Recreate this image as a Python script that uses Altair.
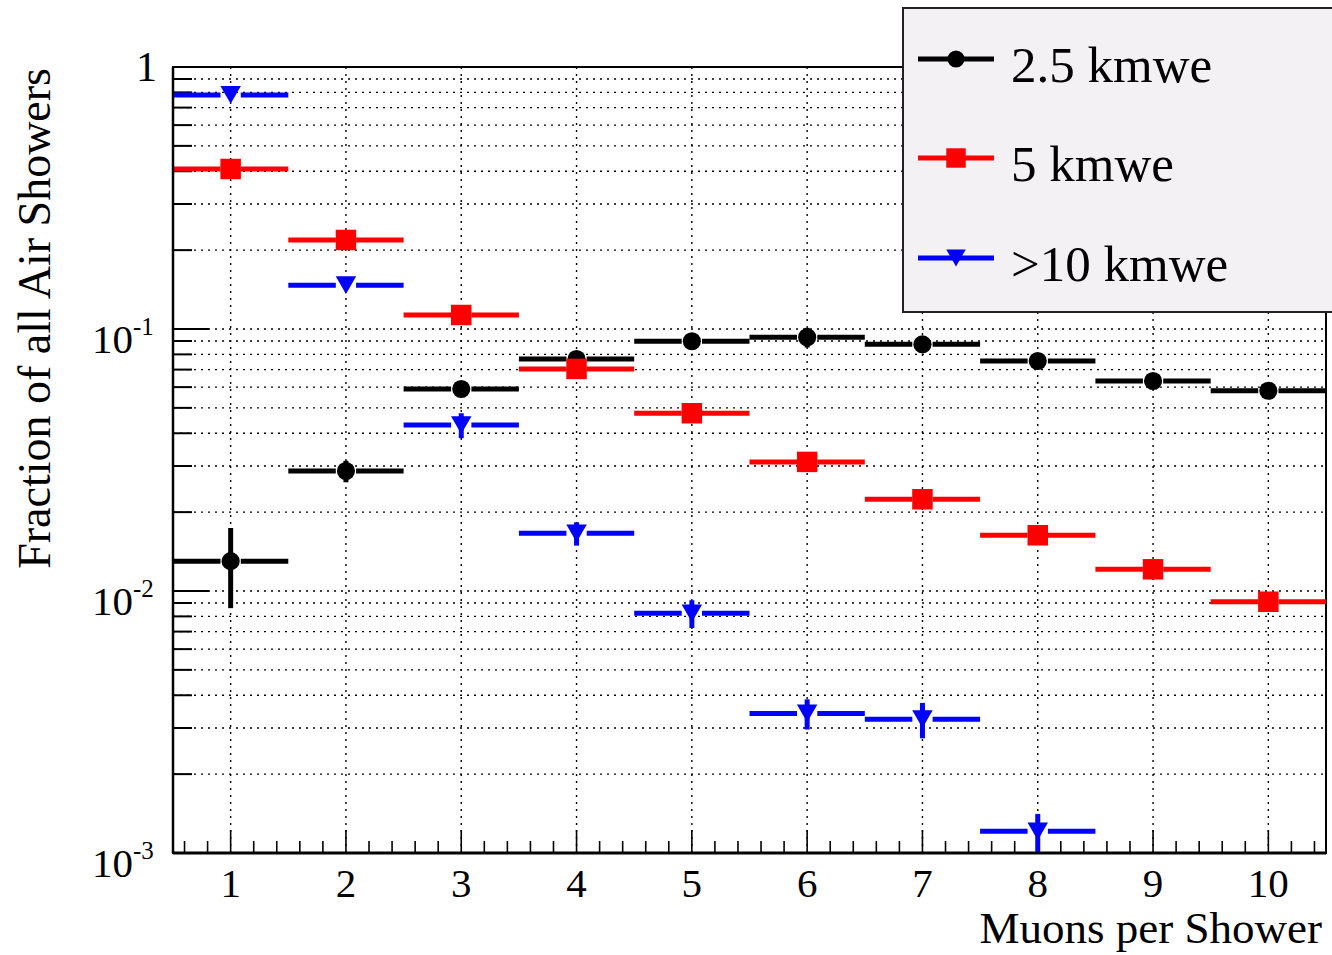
import altair as alt
import pandas as pd

# ---------------- data ----------------
muons = [1, 2, 3, 4, 5, 6, 7, 8, 9, 10]

val_25 = [0.0130, 0.0287, 0.0590, 0.0768, 0.0898, 0.0930, 0.0874, 0.0755, 0.0633, 0.0581]
err_25 = [0.0044, 0.0027, 0.0025, 0.0040, 0.0030, 0.0080, 0.0030, 0.0030, 0.0020, 0.0020]

val_5 = [0.408, 0.2187, 0.1131, 0.0704, 0.0477, 0.0311, 0.0224, 0.01632, 0.01210, 0.00910]
err_5 = [0.010, 0.0060, 0.0030, 0.0020, 0.0012, 0.0008, 0.0006, 0.0004, 0.0003, 0.0002]

muons_10 = [1, 2, 3, 4, 5, 6, 7, 8]
val_10 = [0.782, 0.147, 0.0430, 0.0166, 0.00822, 0.00341, 0.00324, 0.00121]
err_10 = [0.020, 0.004, 0.0047, 0.0017, 0.0010, 0.00045, 0.0005, 0.0002]

series_names = ["2.5 kmwe", "5 kmwe", ">10 kmwe"]
series_colors = ["#000000", "#ff0000", "#0000ff"]
series_shapes = ["circle", "square", "triangle-down"]
series_sizes = [330, 420, 420]

x_tick_labels = ["1", "2", "3", "4", "5", "6", "7", "8", "9", "10"]
y_major = [0.001, 0.01, 0.1, 1.0]
y_exponents = ["-3", "-2", "-1"]

x_title = "Muons per Shower"
y_title = "Fraction of all Air Showers"

# ---------------- layout ----------------
W, H = 1153, 786
SERIF = "Liberation Serif"
GAP = 0.088  # half marker width in x units (ROOT leaves the marker area free)

xs = alt.Scale(domain=[0.5, 10.5], nice=False, zero=False)
ys = alt.Scale(type="log", domain=[0.001, 1.0], nice=False)

layers = []

y_minor = [k * d for d in [0.001, 0.01, 0.1] for k in range(2, 10)]
y_all = sorted(y_major + y_minor)
x_minor = [round(0.6 + 0.2 * i, 1) for i in range(50)]
x_minor = [v for v in x_minor if abs(v - round(v)) > 1e-6 and v < 10.5]

ymaj_df = pd.DataFrame({"t": y_major})
ymin_df = pd.DataFrame({"t": y_minor})
yall_df = pd.DataFrame({"t": y_all})
xmaj_df = pd.DataFrame({"t": muons, "lab": x_tick_labels})
xmin_df = pd.DataFrame({"t": x_minor})

# dotted grid
layers.append(
    alt.Chart(yall_df).mark_rule(color="black", strokeWidth=1.4, strokeDash=[2, 5]).encode(
        x=alt.value(0), x2=alt.value(W),
        y=alt.Y("t:Q", scale=ys, axis=None),
    )
)
layers.append(
    alt.Chart(xmaj_df).mark_rule(color="black", strokeWidth=1.4, strokeDash=[2, 5]).encode(
        x=alt.X("t:Q", scale=xs, axis=None),
        y=alt.value(0), y2=alt.value(H),
    )
)

# ticks
layers.append(
    alt.Chart(ymaj_df).mark_rule(color="black", strokeWidth=2).encode(
        x=alt.value(0), x2=alt.value(36),
        y=alt.Y("t:Q", scale=ys, axis=None),
    )
)
layers.append(
    alt.Chart(ymin_df).mark_rule(color="black", strokeWidth=2).encode(
        x=alt.value(0), x2=alt.value(19),
        y=alt.Y("t:Q", scale=ys, axis=None),
    )
)
layers.append(
    alt.Chart(xmaj_df).mark_rule(color="black", strokeWidth=1.6).encode(
        x=alt.X("t:Q", scale=xs, axis=None),
        y=alt.value(H), y2=alt.value(H - 23),
    )
)
layers.append(
    alt.Chart(xmin_df).mark_rule(color="black", strokeWidth=1.6).encode(
        x=alt.X("t:Q", scale=xs, axis=None),
        y=alt.value(H), y2=alt.value(H - 12),
    )
)


# series
def series(xv, vals, errs, color, shape, size):
    df = pd.DataFrame({"x": xv, "v": vals, "e": errs})
    df["lo"] = df["v"] - df["e"]
    df["hi"] = df["v"] + df["e"]
    df["xl0"] = df["x"] - 0.5
    df["xl1"] = df["x"] - GAP
    df["xr0"] = df["x"] + GAP
    df["xr1"] = df["x"] + 0.5
    base = alt.Chart(df)
    out = []
    out.append(base.mark_rule(color=color, strokeWidth=5).encode(
        x=alt.X("xl0:Q", scale=xs, axis=None), x2="xl1:Q",
        y=alt.Y("v:Q", scale=ys, axis=None)))
    out.append(base.mark_rule(color=color, strokeWidth=5).encode(
        x=alt.X("xr0:Q", scale=xs, axis=None), x2="xr1:Q",
        y=alt.Y("v:Q", scale=ys, axis=None)))
    out.append(base.mark_rule(color=color, strokeWidth=5).encode(
        x=alt.X("x:Q", scale=xs, axis=None),
        y=alt.Y("lo:Q", scale=ys, axis=None), y2="hi:Q"))
    out.append(base.mark_point(shape=shape, filled=True, size=size, color=color, opacity=1,
                               strokeWidth=0).encode(
        x=alt.X("x:Q", scale=xs, axis=None),
        y=alt.Y("v:Q", scale=ys, axis=None)))
    return out


layers += series(muons, val_25, err_25, series_colors[0], series_shapes[0], series_sizes[0])
layers += series(muons, val_5, err_5, series_colors[1], series_shapes[1], series_sizes[1])
layers += series(muons_10, val_10, err_10, series_colors[2], series_shapes[2], series_sizes[2])

# frame accents (thicker left / bottom axis lines)
one = pd.DataFrame({"a": [0]})
layers.append(alt.Chart(one).mark_rule(color="black", strokeWidth=3).encode(
    x=alt.value(0), x2=alt.value(W), y=alt.value(H)))
layers.append(alt.Chart(one).mark_rule(color="black", strokeWidth=2.5).encode(
    x=alt.value(0), y=alt.value(0), y2=alt.value(H)))

# tick labels
layers.append(alt.Chart(xmaj_df).mark_text(font=SERIF, fontSize=41, align="center",
                                           baseline="alphabetic", color="black").encode(
    x=alt.X("t:Q", scale=xs, axis=None), y=alt.value(H + 44), text="lab:N"))

ylab_df = pd.DataFrame({"t": y_major[:3], "exp": y_exponents})
layers.append(alt.Chart(ylab_df).mark_text(font=SERIF, fontSize=41, align="right",
                                           baseline="alphabetic", dy=24, color="black").encode(
    x=alt.value(-40), y=alt.Y("t:Q", scale=ys, axis=None), text=alt.value("10")))
layers.append(alt.Chart(ylab_df).mark_text(font=SERIF, fontSize=25, align="left",
                                           baseline="alphabetic", dy=6, color="black").encode(
    x=alt.value(-40), y=alt.Y("t:Q", scale=ys, axis=None), text="exp:N"))
layers.append(alt.Chart(pd.DataFrame({"t": [1.0]})).mark_text(
    font=SERIF, fontSize=42, align="right", baseline="alphabetic", dy=14, color="black").encode(
    x=alt.value(-16), y=alt.Y("t:Q", scale=ys, axis=None), text=alt.value("1")))

# axis titles
layers.append(alt.Chart(one).mark_text(font=SERIF, fontSize=45, align="right",
                                       baseline="alphabetic", color="black").encode(
    x=alt.value(W - 4), y=alt.value(876), text=alt.value(x_title)))
layers.append(alt.Chart(one).mark_text(font=SERIF, fontSize=46, align="right",
                                       baseline="alphabetic", angle=270, color="black").encode(
    x=alt.value(-123), y=alt.value(1), text=alt.value(y_title)))

# legend box
layers.append(alt.Chart(one).mark_rect(fill="#f4f1f4", stroke="#222222", strokeWidth=2).encode(
    x=alt.value(730), x2=alt.value(1175), y=alt.value(-59), y2=alt.value(245)))
legend_y = [-8, 91, 191]
for name, col, shp, sz, ly in zip(series_names, series_colors, series_shapes, series_sizes, legend_y):
    layers.append(alt.Chart(one).mark_rule(color=col, strokeWidth=5).encode(
        x=alt.value(745), x2=alt.value(821), y=alt.value(ly)))
    layers.append(alt.Chart(one).mark_point(shape=shp, filled=True, size=sz * 0.9, color=col,
                                            opacity=1, strokeWidth=0).encode(
        x=alt.value(783), y=alt.value(ly)))
    layers.append(alt.Chart(one).mark_text(font=SERIF, fontSize=51, align="left",
                                           baseline="alphabetic", color="black").encode(
        x=alt.value(838), y=alt.value(ly + 23), text=alt.value(name)))

chart = alt.layer(*layers).properties(
    width=W, height=H,
    autosize=alt.AutoSizeParams(type="none"),
    padding={"left": 173, "top": 67, "right": 6, "bottom": 102},
    background="white",
).configure_view(stroke="black", strokeWidth=2)

chart.save("out.html", embed_options={"renderer": "svg", "actions": False})
